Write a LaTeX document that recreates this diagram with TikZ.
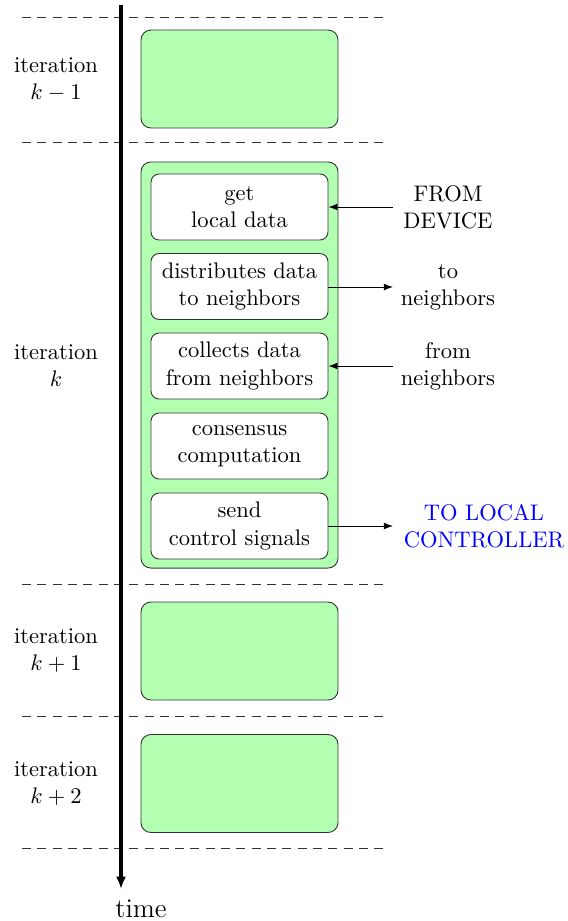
\documentclass[tikz,border=0pt]{standalone}
\usetikzlibrary{arrows.meta}
\begin{document}
\begin{tikzpicture}[x=0.444pt,y=-0.444pt,
  greenbox/.style={draw=black!80,fill=green!30,rounded corners=4.4pt,minimum width=87.5pt,minimum height=43.5pt,inner sep=0pt},
  bigbox/.style={draw=black!80,fill=green!30,rounded corners=4.4pt,minimum width=87.5pt,minimum height=180.3pt,inner sep=0pt},
  stepbox/.style={draw=black!80,fill=white,rounded corners=3.6pt,minimum width=78.6pt,minimum height=29.3pt,inner sep=0pt,align=center},
  lab/.style={align=center,inner sep=0pt},
  sep/.style={dashed,dash pattern=on 4pt off 2.8pt,black!80},
  conn/.style={-{Latex[length=4pt,width=3pt]},thin}]
\useasboundingbox (0,0) rectangle (567,921);
% separators
\foreach \yy in {17,142,584,716,848} \draw[sep] (22,\yy) -- (385,\yy);
% green boxes
\node[greenbox] (g1) at (239.5,79) {};
\node[bigbox] (gk) at (239.5,365) {};
\node[greenbox] (g3) at (239.5,651) {};
\node[greenbox] (g4) at (239.5,783.5) {};
% steps
\node[stepbox] (b1) at (239.5,207) {get\\local data};
\node[stepbox] (b2) at (239.5,286.5) {distributes data\\to neighbors};
\node[stepbox] (b3) at (239.5,366) {collects data\\from neighbors};
\node[stepbox] (b4) at (239.5,446) {consensus\\computation};
\node[stepbox] (b5) at (239.5,526) {send\\control signals};
% iteration labels
\node[lab] (i1) at (56,80) {iteration\\$k-1$};
\node[lab] (i2) at (56,366) {iteration\\$k$};
\node[lab] (i3) at (56,651) {iteration\\$k+1$};
\node[lab] (i4) at (56,784) {iteration\\$k+2$};
% right labels
\node[lab] (r1) at (448,207) {FROM\\DEVICE};
\node[lab] (r2) at (448,287) {to\\neighbors};
\node[lab] (r3) at (448,366) {from\\neighbors};
\node[lab,text=blue] (r5) at (484,526) {TO LOCAL\\CONTROLLER};
% connector ends
\coordinate (e1) at (393,207);
\coordinate (e2) at (393,287);
\coordinate (e3) at (393,366);
\coordinate (e5) at (393,526);
\draw[conn] (e1) -- (b1.east);
\draw[conn] (b2.east |- e2) -- (e2);
\draw[conn] (e3) -- (b3.east);
\draw[conn] (b5.east |- e5) -- (e5);
% time axis
\coordinate (t0) at (121,5);
\coordinate (t1) at (121,889);
\draw[line width=1.4pt,-{Latex[length=5.5pt,width=4.5pt]}] (t0) -- (t1);
\node[lab,font=\large] (time) at (141,909) {time};
\end{tikzpicture}
\end{document}
